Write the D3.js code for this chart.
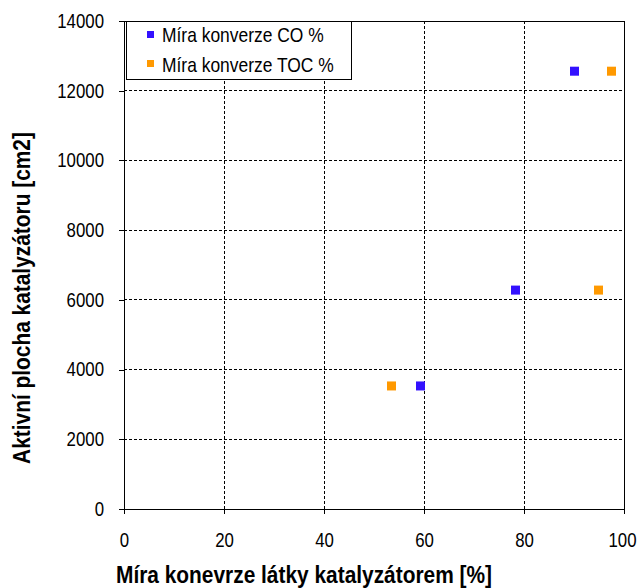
<!DOCTYPE html>
<html>
<head>
<meta charset="utf-8">
<script src="https://cdn.jsdelivr.net/npm/d3@7"></script>
<style>
body { margin: 0; background: #fff; }
text { font-family: "Liberation Sans", Arial, sans-serif; }
</style>
</head>
<body>
<div id="chart"></div>
<script>
// series data
var seriesNames = ["Míra konverze CO %", "Míra konverze TOC %"];
var seriesColors = ["#3311ff", "#ff9900"];
var areaValues = [3530, 6280, 12560];
var coValues = [59.3, 78.3, 90.1];
var tocValues = [53.5, 94.9, 97.5];
var xTicks = [0, 20, 40, 60, 80, 100];
var yTicks = [0, 2000, 4000, 6000, 8000, 10000, 12000, 14000];

var margin = { top: 21, right: 17, bottom: 79, left: 124 },
    width = 641 - margin.left - margin.right,
    height = 588 - margin.top - margin.bottom;

var x = d3.scaleLinear().domain([0, 100]).range([0, width]);
var y = d3.scaleLinear().domain([0, 14000]).range([height, 0]);

// squeeze text horizontally, the original uses a narrow font
const condense = (sel, f) => {
    sel.each(function () {
        var w = this.getComputedTextLength();
        d3.select(this).attr("textLength", w * f).attr("lengthAdjust", "spacingAndGlyphs");
    });
};

var svg = d3.select("#chart").append("svg")
    .attr("width", 641)
    .attr("height", 588)
  .append("g")
    .attr("transform", "translate(" + margin.left + "," + margin.top + ")");

// gridlines
svg.append("g").selectAll("line")
    .data(xTicks.slice(1, -1))
    .enter().append("line")
    .attr("x1", d => x(d)).attr("x2", d => x(d))
    .attr("y1", 0).attr("y2", height)
    .attr("stroke", "#000").attr("stroke-width", 1)
    .attr("stroke-dasharray", "3,2")
    .attr("shape-rendering", "crispEdges");
svg.append("g").selectAll("line")
    .data(yTicks.slice(1, -1))
    .enter().append("line")
    .attr("x1", 0).attr("x2", width)
    .attr("y1", d => y(d)).attr("y2", d => y(d))
    .attr("stroke", "#000").attr("stroke-width", 1)
    .attr("stroke-dasharray", "3,2")
    .attr("shape-rendering", "crispEdges");

// frame
svg.append("rect")
    .attr("x", 0).attr("y", 0)
    .attr("width", width).attr("height", height)
    .attr("fill", "none").attr("stroke", "#000")
    .attr("shape-rendering", "crispEdges");

// axes
var xAxis = svg.append("g")
    .attr("transform", "translate(0," + height + ")")
    .call(d3.axisBottom(x).tickValues(xTicks).tickSize(5).tickPadding(19).tickFormat(d3.format("d")));
var yAxis = svg.append("g")
    .call(d3.axisLeft(y).tickValues(yTicks).tickSize(5).tickPadding(15).tickFormat(d3.format("d")));
[xAxis, yAxis].forEach(function (a) {
    a.select(".domain").attr("stroke", "#000").attr("shape-rendering", "crispEdges");
    a.selectAll(".tick line").attr("stroke", "#000").attr("shape-rendering", "crispEdges");
    a.selectAll(".tick text").attr("font-size", 20).attr("fill", "#000")
        .style("font-family", '"Liberation Sans", Arial, sans-serif')
        .call(condense, 0.84);
});
// keep the last x label inside the window
xAxis.selectAll(".tick text").filter(d => d === 100).attr("dx", -2);

// points
var pts = [];
areaValues.forEach(function (a, i) {
    pts.push({ s: 0, x: coValues[i], y: a });
    pts.push({ s: 1, x: tocValues[i], y: a });
});
var ms = 9;
svg.append("g").selectAll("rect")
    .data(pts)
    .enter().append("rect")
    .attr("x", d => x(d.x) - ms / 2)
    .attr("y", d => y(d.y) - ms / 2)
    .attr("width", ms).attr("height", ms)
    .attr("fill", d => seriesColors[d.s]);

// legend
var legend = svg.append("g").attr("transform", "translate(2,0)");
legend.append("rect")
    .attr("x", 0).attr("y", 0)
    .attr("width", 225).attr("height", 58)
    .attr("fill", "#fff").attr("stroke", "#000")
    .attr("shape-rendering", "crispEdges");
seriesNames.forEach(function (n, i) {
    legend.append("rect")
        .attr("x", 21).attr("y", 10 + i * 29)
        .attr("width", 7).attr("height", 7)
        .attr("fill", seriesColors[i]);
    legend.append("text")
        .attr("x", 36).attr("y", 21 + i * 29.5)
        .attr("font-size", 21)
        .text(n)
        .call(condense, 0.83);
});

// axis titles
svg.append("text")
    .attr("x", width / 2 - 70).attr("y", height + 74)
    .attr("text-anchor", "middle")
    .attr("font-size", 24).attr("font-weight", "bold")
    .text("Míra konevrze látky katalyzátorem [%]")
    .call(condense, 0.87);
svg.append("text")
    .attr("transform", "translate(" + (-94) + "," + (height / 2 + 33) + ") rotate(-90)")
    .attr("text-anchor", "middle")
    .attr("font-size", 24).attr("font-weight", "bold")
    .text("Aktivní plocha katalyzátoru [cm2]")
    .call(condense, 0.87);
</script>
</body>
</html>
